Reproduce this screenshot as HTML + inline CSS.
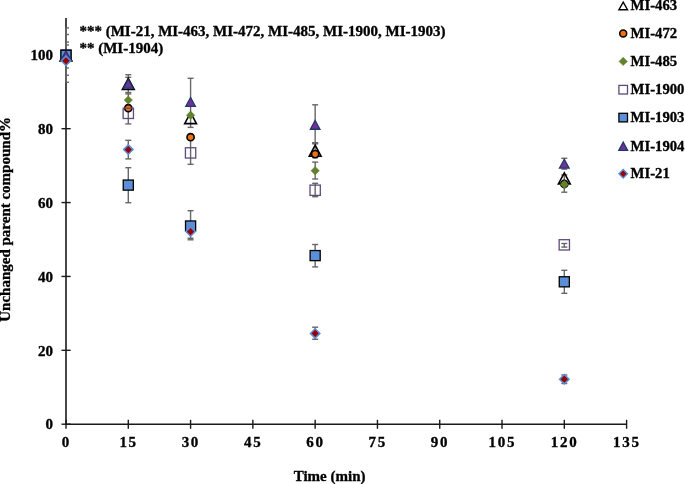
<!DOCTYPE html>
<html><head><meta charset="utf-8"><style>
html,body{margin:0;padding:0;background:#fff;}
body{width:685px;height:484px;overflow:hidden;}
svg{display:block;will-change:transform;}
text{font-family:"Liberation Serif",serif;font-weight:bold;fill:#000;stroke:#000;stroke-width:0.35px;}
.yl{font-size:15px;text-anchor:end;}
.xl{font-size:15px;text-anchor:middle;letter-spacing:1.7px;}
.ttl{font-size:15px;}
.ann{font-size:15px;}
.lg{font-size:14.7px;}
</style></head><body>
<svg width="685" height="484" viewBox="0 0 685 484">
<line x1="66" y1="18" x2="66" y2="424.2" stroke="#1a1a1a" stroke-width="1.6"/>
<line x1="66" y1="424.2" x2="626.6" y2="424.2" stroke="#1a1a1a" stroke-width="1.4"/>
<line x1="61.5" y1="424.20" x2="70.7" y2="424.20" stroke="#1a1a1a" stroke-width="1.4"/>
<line x1="61.5" y1="350.32" x2="70.7" y2="350.32" stroke="#1a1a1a" stroke-width="1.4"/>
<line x1="61.5" y1="276.44" x2="70.7" y2="276.44" stroke="#1a1a1a" stroke-width="1.4"/>
<line x1="61.5" y1="202.56" x2="70.7" y2="202.56" stroke="#1a1a1a" stroke-width="1.4"/>
<line x1="61.5" y1="128.68" x2="70.7" y2="128.68" stroke="#1a1a1a" stroke-width="1.4"/>
<line x1="61.5" y1="54.80" x2="70.7" y2="54.80" stroke="#1a1a1a" stroke-width="1.4"/>
<line x1="66.00" y1="419.8" x2="66.00" y2="428.8" stroke="#1a1a1a" stroke-width="1.4"/>
<line x1="128.29" y1="419.8" x2="128.29" y2="428.8" stroke="#1a1a1a" stroke-width="1.4"/>
<line x1="190.58" y1="419.8" x2="190.58" y2="428.8" stroke="#1a1a1a" stroke-width="1.4"/>
<line x1="252.87" y1="419.8" x2="252.87" y2="428.8" stroke="#1a1a1a" stroke-width="1.4"/>
<line x1="315.16" y1="419.8" x2="315.16" y2="428.8" stroke="#1a1a1a" stroke-width="1.4"/>
<line x1="377.44" y1="419.8" x2="377.44" y2="428.8" stroke="#1a1a1a" stroke-width="1.4"/>
<line x1="439.73" y1="419.8" x2="439.73" y2="428.8" stroke="#1a1a1a" stroke-width="1.4"/>
<line x1="502.02" y1="419.8" x2="502.02" y2="428.8" stroke="#1a1a1a" stroke-width="1.4"/>
<line x1="564.31" y1="419.8" x2="564.31" y2="428.8" stroke="#1a1a1a" stroke-width="1.4"/>
<line x1="626.60" y1="419.8" x2="626.60" y2="428.8" stroke="#1a1a1a" stroke-width="1.4"/>
<line x1="66.00" y1="27.90" x2="66.00" y2="82.30" stroke="#676767" stroke-width="1.7"/>
<line x1="66.00" y1="27.90" x2="69.00" y2="27.90" stroke="#676767" stroke-width="1.4"/>
<line x1="66.00" y1="34.50" x2="69.00" y2="34.50" stroke="#676767" stroke-width="1.4"/>
<line x1="66.00" y1="42.10" x2="69.00" y2="42.10" stroke="#676767" stroke-width="1.4"/>
<line x1="66.00" y1="45.00" x2="69.00" y2="45.00" stroke="#676767" stroke-width="1.4"/>
<line x1="66.00" y1="68.00" x2="69.00" y2="68.00" stroke="#676767" stroke-width="1.4"/>
<line x1="66.00" y1="75.20" x2="69.00" y2="75.20" stroke="#676767" stroke-width="1.4"/>
<line x1="66.00" y1="82.30" x2="69.00" y2="82.30" stroke="#676767" stroke-width="1.4"/>
<line x1="128.29" y1="74.70" x2="128.29" y2="123.90" stroke="#676767" stroke-width="1.4"/>
<line x1="125.29" y1="74.70" x2="131.29" y2="74.70" stroke="#676767" stroke-width="1.4"/>
<line x1="125.29" y1="77.30" x2="131.29" y2="77.30" stroke="#676767" stroke-width="1.4"/>
<line x1="125.29" y1="92.50" x2="131.29" y2="92.50" stroke="#676767" stroke-width="1.4"/>
<line x1="125.29" y1="93.90" x2="131.29" y2="93.90" stroke="#676767" stroke-width="1.4"/>
<line x1="125.29" y1="123.90" x2="131.29" y2="123.90" stroke="#676767" stroke-width="1.4"/>
<line x1="128.29" y1="140.30" x2="128.29" y2="158.90" stroke="#676767" stroke-width="1.4"/>
<line x1="125.29" y1="140.30" x2="131.29" y2="140.30" stroke="#676767" stroke-width="1.4"/>
<line x1="125.29" y1="158.90" x2="131.29" y2="158.90" stroke="#676767" stroke-width="1.4"/>
<line x1="128.29" y1="167.70" x2="128.29" y2="202.70" stroke="#676767" stroke-width="1.4"/>
<line x1="125.29" y1="167.70" x2="131.29" y2="167.70" stroke="#676767" stroke-width="1.4"/>
<line x1="125.29" y1="202.70" x2="131.29" y2="202.70" stroke="#676767" stroke-width="1.4"/>
<line x1="190.58" y1="78.30" x2="190.58" y2="127.40" stroke="#676767" stroke-width="1.4"/>
<line x1="187.58" y1="78.30" x2="193.58" y2="78.30" stroke="#676767" stroke-width="1.4"/>
<line x1="187.58" y1="127.40" x2="193.58" y2="127.40" stroke="#676767" stroke-width="1.4"/>
<line x1="190.58" y1="137.20" x2="190.58" y2="164.30" stroke="#676767" stroke-width="1.4"/>
<line x1="187.58" y1="164.30" x2="193.58" y2="164.30" stroke="#676767" stroke-width="1.4"/>
<line x1="190.58" y1="210.70" x2="190.58" y2="239.80" stroke="#676767" stroke-width="1.4"/>
<line x1="187.58" y1="210.70" x2="193.58" y2="210.70" stroke="#676767" stroke-width="1.4"/>
<line x1="187.58" y1="238.30" x2="193.58" y2="238.30" stroke="#676767" stroke-width="1.4"/>
<line x1="187.58" y1="239.80" x2="193.58" y2="239.80" stroke="#676767" stroke-width="1.4"/>
<line x1="315.16" y1="104.80" x2="315.16" y2="143.60" stroke="#676767" stroke-width="1.4"/>
<line x1="312.16" y1="104.80" x2="318.16" y2="104.80" stroke="#676767" stroke-width="1.4"/>
<line x1="312.16" y1="142.80" x2="318.16" y2="142.80" stroke="#676767" stroke-width="1.4"/>
<line x1="312.16" y1="143.80" x2="318.16" y2="143.80" stroke="#676767" stroke-width="1.4"/>
<line x1="315.16" y1="142.80" x2="315.16" y2="157.70" stroke="#676767" stroke-width="1.4"/>
<line x1="312.16" y1="142.80" x2="318.16" y2="142.80" stroke="#676767" stroke-width="1.4"/>
<line x1="312.16" y1="157.70" x2="318.16" y2="157.70" stroke="#676767" stroke-width="1.4"/>
<line x1="315.16" y1="162.10" x2="315.16" y2="179.00" stroke="#676767" stroke-width="1.4"/>
<line x1="312.16" y1="162.10" x2="318.16" y2="162.10" stroke="#676767" stroke-width="1.4"/>
<line x1="312.16" y1="179.00" x2="318.16" y2="179.00" stroke="#676767" stroke-width="1.4"/>
<line x1="315.16" y1="183.30" x2="315.16" y2="196.70" stroke="#676767" stroke-width="1.4"/>
<line x1="312.16" y1="183.30" x2="318.16" y2="183.30" stroke="#676767" stroke-width="1.4"/>
<line x1="312.16" y1="196.70" x2="318.16" y2="196.70" stroke="#676767" stroke-width="1.4"/>
<line x1="315.16" y1="244.50" x2="315.16" y2="266.90" stroke="#676767" stroke-width="1.4"/>
<line x1="312.16" y1="244.50" x2="318.16" y2="244.50" stroke="#676767" stroke-width="1.4"/>
<line x1="312.16" y1="266.90" x2="318.16" y2="266.90" stroke="#676767" stroke-width="1.4"/>
<line x1="315.16" y1="327.20" x2="315.16" y2="339.30" stroke="#676767" stroke-width="1.4"/>
<line x1="312.16" y1="327.20" x2="318.16" y2="327.20" stroke="#676767" stroke-width="1.4"/>
<line x1="312.16" y1="339.30" x2="318.16" y2="339.30" stroke="#676767" stroke-width="1.4"/>
<line x1="564.31" y1="158.30" x2="564.31" y2="169.10" stroke="#676767" stroke-width="1.4"/>
<line x1="561.31" y1="158.30" x2="567.31" y2="158.30" stroke="#676767" stroke-width="1.4"/>
<line x1="561.31" y1="169.10" x2="567.31" y2="169.10" stroke="#676767" stroke-width="1.4"/>
<line x1="564.31" y1="174.90" x2="564.31" y2="192.20" stroke="#676767" stroke-width="1.4"/>
<line x1="561.31" y1="174.90" x2="567.31" y2="174.90" stroke="#676767" stroke-width="1.4"/>
<line x1="561.31" y1="192.20" x2="567.31" y2="192.20" stroke="#676767" stroke-width="1.4"/>
<line x1="564.31" y1="243.50" x2="564.31" y2="247.10" stroke="#676767" stroke-width="1.4"/>
<line x1="561.31" y1="243.50" x2="567.31" y2="243.50" stroke="#676767" stroke-width="1.4"/>
<line x1="561.31" y1="247.10" x2="567.31" y2="247.10" stroke="#676767" stroke-width="1.4"/>
<line x1="564.31" y1="270.30" x2="564.31" y2="293.30" stroke="#676767" stroke-width="1.4"/>
<line x1="561.31" y1="270.30" x2="567.31" y2="270.30" stroke="#676767" stroke-width="1.4"/>
<line x1="561.31" y1="293.30" x2="567.31" y2="293.30" stroke="#676767" stroke-width="1.4"/>
<line x1="564.31" y1="375.00" x2="564.31" y2="383.50" stroke="#676767" stroke-width="1.4"/>
<line x1="561.31" y1="375.00" x2="567.31" y2="375.00" stroke="#676767" stroke-width="1.4"/>
<line x1="561.31" y1="383.50" x2="567.31" y2="383.50" stroke="#676767" stroke-width="1.4"/>
<path d="M66.00 49.95 L71.90 60.95 L60.10 60.95 Z" fill="none" stroke="#000" stroke-width="1.6" stroke-linejoin="miter"/>
<path d="M128.29 78.40 L134.19 89.40 L122.39 89.40 Z" fill="none" stroke="#000" stroke-width="1.6" stroke-linejoin="miter"/>
<path d="M190.58 112.60 L196.48 123.60 L184.68 123.60 Z" fill="none" stroke="#000" stroke-width="1.6" stroke-linejoin="miter"/>
<path d="M315.16 145.20 L321.06 156.20 L309.26 156.20 Z" fill="none" stroke="#000" stroke-width="1.6" stroke-linejoin="miter"/>
<path d="M564.31 172.90 L570.21 183.90 L558.41 183.90 Z" fill="none" stroke="#000" stroke-width="1.6" stroke-linejoin="miter"/>
<circle cx="66.00" cy="55.00" r="3.60" fill="#EE7010" stroke="#000" stroke-width="1.6"/>
<circle cx="128.29" cy="108.20" r="3.60" fill="#EE7010" stroke="#000" stroke-width="1.6"/>
<circle cx="190.58" cy="137.20" r="3.60" fill="#EE7010" stroke="#000" stroke-width="1.6"/>
<circle cx="315.16" cy="154.10" r="3.60" fill="#EE7010" stroke="#000" stroke-width="1.6"/>
<circle cx="564.31" cy="184.00" r="3.60" fill="#EE7010" stroke="#000" stroke-width="1.6"/>
<path d="M66.00 50.80 L70.20 55.00 L66.00 59.20 L61.80 55.00 Z" fill="#64822E" stroke="#64822E" stroke-width="0.5"/>
<path d="M128.29 95.90 L132.49 100.10 L128.29 104.30 L124.09 100.10 Z" fill="#64822E" stroke="#64822E" stroke-width="0.5"/>
<path d="M190.58 111.10 L194.78 115.30 L190.58 119.50 L186.38 115.30 Z" fill="#64822E" stroke="#64822E" stroke-width="0.5"/>
<path d="M315.16 166.50 L319.36 170.70 L315.16 174.90 L310.96 170.70 Z" fill="#64822E" stroke="#64822E" stroke-width="0.5"/>
<path d="M564.31 180.20 L568.51 184.40 L564.31 188.60 L560.11 184.40 Z" fill="#64822E" stroke="#64822E" stroke-width="0.5"/>
<rect x="60.85" y="49.85" width="10.30" height="10.30" fill="none" stroke="#604A7B" stroke-width="1.3"/>
<rect x="123.14" y="108.20" width="10.30" height="10.30" fill="none" stroke="#604A7B" stroke-width="1.3"/>
<rect x="185.43" y="147.75" width="10.30" height="10.30" fill="none" stroke="#604A7B" stroke-width="1.3"/>
<rect x="310.01" y="185.10" width="10.30" height="10.30" fill="none" stroke="#604A7B" stroke-width="1.3"/>
<rect x="559.16" y="239.70" width="10.30" height="10.30" fill="none" stroke="#604A7B" stroke-width="1.3"/>
<rect x="60.95" y="50.25" width="10.10" height="10.10" fill="#5B8FD8" stroke="#000" stroke-width="1.3"/>
<rect x="123.24" y="180.05" width="10.10" height="10.10" fill="#5B8FD8" stroke="#000" stroke-width="1.3"/>
<rect x="185.53" y="220.95" width="10.10" height="10.10" fill="#5B8FD8" stroke="#000" stroke-width="1.3"/>
<rect x="310.11" y="250.55" width="10.10" height="10.10" fill="#5B8FD8" stroke="#000" stroke-width="1.3"/>
<rect x="559.26" y="276.75" width="10.10" height="10.10" fill="#5B8FD8" stroke="#000" stroke-width="1.3"/>
<path d="M66.00 50.95 L70.80 59.75 L61.20 59.75 Z" fill="#7030A0" stroke="#1F3864" stroke-width="1.3" stroke-linejoin="miter"/>
<path d="M128.29 79.40 L133.09 88.20 L123.49 88.20 Z" fill="#7030A0" stroke="#1F3864" stroke-width="1.3" stroke-linejoin="miter"/>
<path d="M190.58 97.50 L195.38 106.30 L185.78 106.30 Z" fill="#7030A0" stroke="#1F3864" stroke-width="1.3" stroke-linejoin="miter"/>
<path d="M315.16 120.45 L319.96 129.25 L310.36 129.25 Z" fill="#7030A0" stroke="#1F3864" stroke-width="1.3" stroke-linejoin="miter"/>
<path d="M564.31 159.25 L569.11 168.05 L559.51 168.05 Z" fill="#7030A0" stroke="#1F3864" stroke-width="1.3" stroke-linejoin="miter"/>
<path d="M66.00 56.10 L70.70 60.80 L66.00 65.50 L61.30 60.80 Z" fill="#990000" stroke="#5A8ED6" stroke-width="1.5"/>
<path d="M128.29 144.90 L132.99 149.60 L128.29 154.30 L123.59 149.60 Z" fill="#990000" stroke="#5A8ED6" stroke-width="1.5"/>
<path d="M190.58 226.90 L195.28 231.60 L190.58 236.30 L185.88 231.60 Z" fill="#990000" stroke="#5A8ED6" stroke-width="1.5"/>
<path d="M315.16 328.70 L319.86 333.40 L315.16 338.10 L310.46 333.40 Z" fill="#990000" stroke="#5A8ED6" stroke-width="1.5"/>
<path d="M564.31 374.50 L569.01 379.20 L564.31 383.90 L559.61 379.20 Z" fill="#990000" stroke="#5A8ED6" stroke-width="1.5"/>
<path d="M623.20 2.16 L627.50 9.76 L618.90 9.76 Z" fill="none" stroke="#000" stroke-width="1.4" stroke-linejoin="miter"/>
<text x="630.6" y="10.2" class="lg">MI-463</text>
<circle cx="623.20" cy="33.60" r="3.50" fill="#EE7010" stroke="#000" stroke-width="1.5"/>
<text x="630.6" y="38.2" class="lg">MI-472</text>
<path d="M623.20 57.20 L627.40 61.40 L623.20 65.60 L619.00 61.40 Z" fill="#64822E" stroke="#64822E" stroke-width="0.5"/>
<text x="630.6" y="66.0" class="lg">MI-485</text>
<rect x="618.90" y="85.40" width="8.60" height="8.60" fill="none" stroke="#604A7B" stroke-width="1.3"/>
<text x="630.6" y="94.3" class="lg">MI-1900</text>
<rect x="618.90" y="113.30" width="8.60" height="8.60" fill="#5B8FD8" stroke="#000" stroke-width="1.3"/>
<text x="630.6" y="122.2" class="lg">MI-1903</text>
<path d="M623.20 142.16 L627.60 150.36 L618.80 150.36 Z" fill="#7030A0" stroke="#1F3864" stroke-width="1.3" stroke-linejoin="miter"/>
<text x="630.6" y="150.5" class="lg">MI-1904</text>
<path d="M623.20 169.50 L627.40 173.70 L623.20 177.90 L619.00 173.70 Z" fill="#990000" stroke="#5A8ED6" stroke-width="1.4"/>
<text x="630.6" y="178.3" class="lg">MI-21</text>
<text x="53" y="429.40" class="yl">0</text>
<text x="53" y="355.52" class="yl">20</text>
<text x="53" y="281.64" class="yl">40</text>
<text x="53" y="207.76" class="yl">60</text>
<text x="53" y="133.88" class="yl">80</text>
<text x="53" y="60.00" class="yl">100</text>
<text x="66.30" y="447.3" class="xl">0</text>
<text x="128.59" y="447.3" class="xl">15</text>
<text x="190.88" y="447.3" class="xl">30</text>
<text x="253.17" y="447.3" class="xl">45</text>
<text x="315.46" y="447.3" class="xl">60</text>
<text x="377.75" y="447.3" class="xl">75</text>
<text x="440.03" y="447.3" class="xl">90</text>
<text x="502.32" y="447.3" class="xl">105</text>
<text x="564.61" y="447.3" class="xl">120</text>
<text x="626.90" y="447.3" class="xl">135</text>
<text x="329.6" y="480.7" class="ttl" text-anchor="middle">Time (min)</text>
<text transform="translate(10.3 219.4) rotate(-90)" class="ttl" style="font-size:15px" text-anchor="middle">Unchanged parent compound%</text>
<text x="79.4" y="36.2" class="ann">*** (MI-21, MI-463, MI-472, MI-485, MI-1900, MI-1903)</text>
<text x="79.4" y="53.2" class="ann">** (MI-1904)</text>
</svg>
</body></html>
